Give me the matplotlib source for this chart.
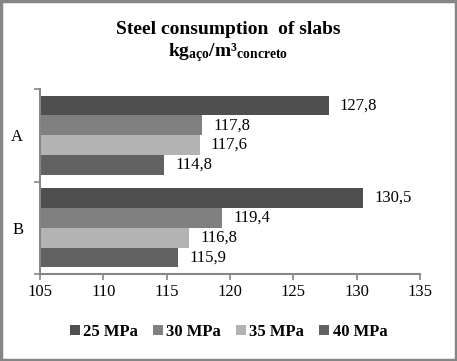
import numpy as np
import matplotlib.pyplot as plt
from matplotlib.patches import Rectangle
from matplotlib.ticker import FixedLocator

plt.rcParams['font.family'] = ['Liberation Serif', 'DejaVu Serif']
plt.rcParams['mathtext.fontset'] = 'custom'
plt.rcParams['mathtext.rm'] = 'Liberation Serif'
plt.rcParams['mathtext.bf'] = 'Liberation Serif:bold'

categories = ['A', 'B']
series = ['25 MPa', '30 MPa', '35 MPa', '40 MPa']
values = {
    '25 MPa': [127.8, 130.5],
    '30 MPa': [117.8, 119.4],
    '35 MPa': [117.6, 116.8],
    '40 MPa': [114.8, 115.9],
}
colors = ['#4f4f4f', '#808080', '#b3b3b3', '#626262']
x_ticks = [105, 110, 115, 120, 125, 130, 135]

fig = plt.figure(figsize=(4.57, 3.61), dpi=100)
ax = fig.add_axes([40 / 457, 1 - 274 / 361, 380 / 457, 185 / 361])

base = 105
n = len(series)
bh = 0.855 / n
y = np.arange(len(categories))
for i, (s, c) in enumerate(zip(series, colors)):
    pos = y - 0.855 / 2 + bh * (i + 0.5)
    vals = np.array(values[s])
    ax.barh(pos, vals - base, left=base, height=bh, color=c, label=s)
    for p, v in zip(pos, vals):
        ax.annotate(f'{v:.1f}'.replace('.', ','), (v, p), xytext=(8, 0),
                    textcoords='offset points', va='center', ha='left',
                    fontsize=12)

ax.set_xlim(105, 135)
ax.set_xticks(x_ticks)
ax.set_ylim(1.5, -0.5)
ax.yaxis.set_major_locator(FixedLocator([-0.5, 0.5, 1.5]))
ax.yaxis.set_minor_locator(FixedLocator(y))
ax.set_yticklabels([], minor=False)
ax.set_yticklabels(categories, minor=True)
ax.tick_params(axis='y', which='minor', length=0, pad=12, labelsize=12)
ax.tick_params(axis='both', which='major', length=4, width=1.2,
               color='#868686', labelsize=12)
for side in ['top', 'right']:
    ax.spines[side].set_visible(False)
for side in ['left', 'bottom']:
    ax.spines[side].set_color('#868686')
    ax.spines[side].set_linewidth(1.5)

fig.text(0.5, 1 - 29 / 361, 'Steel consumption  of slabs', ha='center',
         va='center', fontsize=14, fontweight='bold')
fig.text(0.5, 1 - 53 / 361, r'$\mathbf{kg_{aço}/m³_{concreto}}$',
         ha='center', va='center', fontsize=14)

fig.legend(loc='center', bbox_to_anchor=(0.5, 1 - 332 / 361), ncol=4,
           frameon=False, prop={'weight': 'bold', 'size': 12},
           handlelength=0.6, handleheight=0.6, handletextpad=0.2,
           columnspacing=0.9)

fig.patches.append(Rectangle((0.003, 0.004), 0.994, 0.992, transform=fig.transFigure,
                             fill=False, edgecolor='#868686', linewidth=2.5))

fig.savefig('out.png', dpi=100)
